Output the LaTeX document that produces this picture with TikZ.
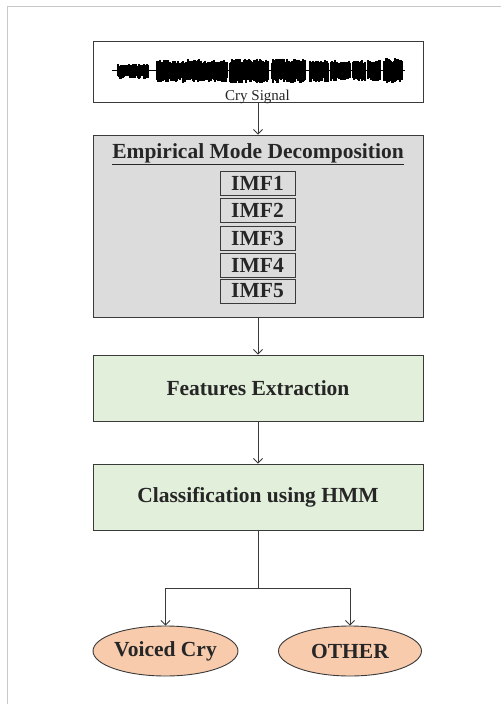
\documentclass[tikz,border=0pt]{standalone}
\usepackage{fontspec}
\setmainfont{Liberation Serif}
\usetikzlibrary{arrows.meta,shapes.geometric}
\definecolor{inkc}{HTML}{262626}
\definecolor{linec}{HTML}{3A3A3A}
\definecolor{emdgray}{HTML}{DCDCDC}
\definecolor{stagegreen}{HTML}{E2EFDA}
\definecolor{outpeach}{HTML}{F8CBAD}
\definecolor{framegray}{HTML}{C8C8C8}
\tikzset{
  flowbox/.style={draw=linec, line width=0.9pt, rectangle, minimum width=330pt,
    inner sep=0pt, text=inkc, font=\fontsize{21.5}{24}\selectfont\bfseries},
  imfbox/.style={draw=linec, line width=0.9pt, rectangle, minimum width=75pt,
    minimum height=24pt, inner sep=0pt, text=inkc, fill=emdgray,
    font=\fontsize{21.5}{24}\selectfont\bfseries},
  outcome/.style={draw=linec, line width=0.9pt, ellipse, fill=outpeach,
    minimum width=143pt, minimum height=50pt, inner sep=0pt, text=inkc,
    font=\fontsize{21.5}{24}\selectfont\bfseries},
  flowarrow/.style={draw=linec, line width=0.8pt, -{Straight Barb[length=4.5pt,width=9pt]}},
  flowline/.style={draw=linec, line width=0.8pt},
}
\begin{document}
\begin{tikzpicture}[x=1pt,y=-1pt]
  \useasboundingbox (0,0) rectangle (501,704);
  % page frame
  \draw[framegray, line width=0.9pt] (7,704) -- (7,6) -- (501,6);

  % signal box
  \node[flowbox, minimum height=61pt, fill=white] (sig) at (258,71.5) {};
  % waveform: thin baseline and bursts (x from, x to, upper amplitude, lower amplitude)
  \draw[black, line width=0.9pt] (112,70) -- (405,70);
  \pgfmathsetseed{7}
  \foreach \xa/\xb/\au/\ad in {118/148/6/9, 157/180/10.5/12.5, 182/202/11/13,
      204/227/10.5/12.5, 230/268/11.5/13.5, 272/305/11.5/13.5, 310/328/10.5/12.5,
      331/350/10.5/12, 353/365/10/11.5, 368/380/10.5/12, 384/402/12/14.5}{
    \foreach \xx in {\xa,...,\xb}{
      \pgfmathsetmacro{\up}{\au*(0.62+0.38*rnd)}
      \pgfmathsetmacro{\dn}{\ad*(0.62+0.38*rnd)}
      \draw[black, line width=1.2pt] (\xx,70-\up) -- (\xx,70+\dn);
    }
  }
  \node[text=inkc, font=\fontsize{15}{17}\selectfont, inner sep=0pt] (siglabel) at (257.5,97) {Cry Signal};

  % empirical mode decomposition
  \node[flowbox, minimum height=182pt, fill=emdgray] (emd) at (258,226) {};
  \node[text=inkc, font=\fontsize{21.5}{24}\selectfont\bfseries, inner sep=0pt] (emdtitle) at (258,154) {\underline{Empirical Mode Decomposition}};
  \node[imfbox] (imf1) at (257.5,183) {IMF1};
  \node[imfbox] (imf2) at (257.5,210) {IMF2};
  \node[imfbox] (imf3) at (257.5,238) {IMF3};
  \node[imfbox] (imf4) at (257.5,265) {IMF4};
  \node[imfbox] (imf5) at (257.5,291) {IMF5};

  % processing stages
  \node[flowbox, minimum height=66pt, fill=stagegreen] (feat) at (258,388) {Features Extraction};
  \node[flowbox, minimum height=66pt, fill=stagegreen] (cls) at (258,497) {Classification using HMM};

  % outcomes
  \node[outcome] (voiced) at (165.5,651) {Voiced Cry};
  \node[outcome] (other) at (350,651) {OTHER};

  % connectors
  \draw[flowarrow] (sig.south) -- (emd.north);
  \draw[flowarrow] (emd.south) -- (feat.north);
  \draw[flowarrow] (feat.south) -- (cls.north);
  \coordinate (split) at (258,588);
  \draw[flowline] (cls.south) -- (split);
  \draw[flowarrow] (split) -| (voiced.north);
  \draw[flowarrow] (split) -| (other.north);
\end{tikzpicture}
\end{document}
